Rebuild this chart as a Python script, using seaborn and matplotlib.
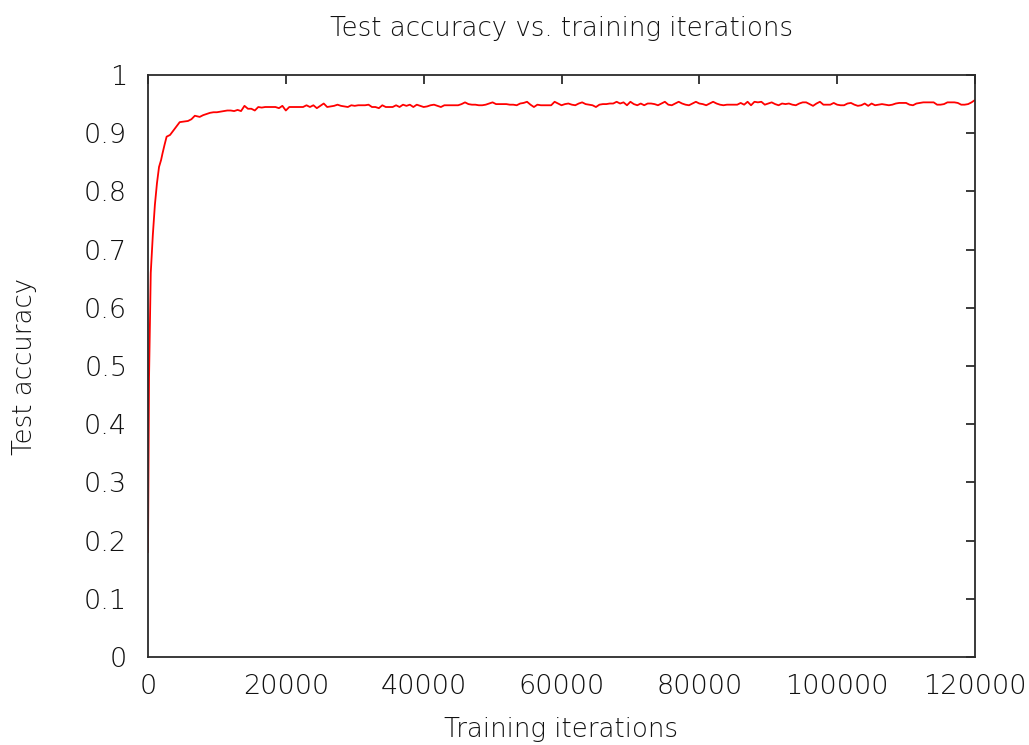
import numpy as np
import pandas as pd
import seaborn as sns
import matplotlib
matplotlib.use("Agg")
import matplotlib.pyplot as plt

# early test points (denser sampling at the start of training)
early_iters = [0, 150, 400, 700, 1000, 1300, 1600, 1900, 2100, 2400, 2700,
               3200, 3900, 4600, 5800, 6300, 6800, 7500]
early_acc = [0.18, 0.48, 0.66, 0.725, 0.777, 0.814, 0.842, 0.854, 0.865, 0.880,
             0.894, 0.897, 0.908, 0.919, 0.921, 0.924, 0.930, 0.928]

# plateau, one test every 500 iterations from 8000 to 120000
plateau_iters = list(range(8000, 120001, 500))
plateau_acc = [
    0.931, 0.933, 0.935, 0.936, 0.936, 0.937, 0.938, 0.939, 0.939, 0.938, 0.940, 0.938,
    0.947, 0.942, 0.942, 0.939, 0.945, 0.944, 0.945, 0.945, 0.945, 0.945, 0.943, 0.947,
    0.939, 0.945, 0.945, 0.945, 0.945, 0.945, 0.948, 0.945, 0.948, 0.943, 0.947, 0.951,
    0.945, 0.946, 0.947, 0.949, 0.947, 0.946, 0.945, 0.948, 0.947, 0.948, 0.948, 0.948,
    0.949, 0.945, 0.945, 0.943,
    0.948, 0.945, 0.945, 0.945, 0.948, 0.945, 0.949, 0.947, 0.949, 0.945, 0.949, 0.947,
    0.945, 0.946, 0.948, 0.949, 0.947, 0.945, 0.948, 0.948, 0.948, 0.948, 0.948, 0.950,
    0.953, 0.950, 0.949, 0.949, 0.948, 0.948, 0.949, 0.951, 0.953, 0.950, 0.950, 0.950,
    0.950, 0.949, 0.949,
    0.948, 0.951, 0.952, 0.954, 0.949, 0.945, 0.949, 0.948, 0.948, 0.948, 0.948, 0.954,
    0.951, 0.948, 0.950, 0.951, 0.949, 0.948, 0.951, 0.953, 0.950, 0.949, 0.948, 0.945,
    0.949, 0.950, 0.950, 0.951, 0.951, 0.954, 0.951, 0.953, 0.948, 0.954, 0.950, 0.948,
    0.951, 0.948, 0.951,
    0.951, 0.950, 0.948, 0.951, 0.954, 0.949, 0.948, 0.951, 0.954, 0.951, 0.949, 0.948,
    0.951, 0.954, 0.951, 0.950, 0.948, 0.951, 0.954, 0.951, 0.949, 0.948, 0.949, 0.949,
    0.949, 0.949, 0.952, 0.949, 0.954, 0.948, 0.954, 0.953, 0.954, 0.949, 0.951, 0.953,
    0.950, 0.948, 0.951,
    0.950, 0.951, 0.949, 0.948, 0.951, 0.953, 0.953, 0.950, 0.947, 0.951, 0.954, 0.949,
    0.949, 0.949, 0.952, 0.949, 0.948, 0.948, 0.951, 0.952, 0.949, 0.947, 0.948, 0.951,
    0.947, 0.951, 0.948, 0.949, 0.950, 0.949, 0.948, 0.949, 0.951, 0.952, 0.952, 0.952,
    0.949, 0.948, 0.951, 0.952,
    0.953, 0.953, 0.953, 0.953, 0.949, 0.949, 0.950, 0.953, 0.953, 0.953, 0.952, 0.949,
    0.949, 0.950, 0.953, 0.957,
]

x_ticks = [0, 20000, 40000, 60000, 80000, 100000, 120000]
x_tick_labels = ["0", "20000", "40000", "60000", "80000", "100000", "120000"]
y_ticks = [0, 0.1, 0.2, 0.3, 0.4, 0.5, 0.6, 0.7, 0.8, 0.9, 1.0]
y_tick_labels = ["0", "0.1", "0.2", "0.3", "0.4", "0.5", "0.6", "0.7", "0.8", "0.9", "1"]

df = pd.DataFrame({
    "iteration": early_iters + plateau_iters,
    "accuracy": early_acc + plateau_acc,
})

sns.set_style("white")
plt.rcParams["font.family"] = ["DejaVu Sans"]

frame_col = "#2b2b2b"
text_col = "#111111"
tick_size = 19.5
label_size = 18.7

fig = plt.figure(figsize=(10.29, 7.45), dpi=100)
ax = fig.add_axes([148 / 1029, 1 - 657 / 745, 827 / 1029, 582 / 745])

sns.lineplot(data=df, x="iteration", y="accuracy", ax=ax,
             color="#ff0000", linewidth=1.3, estimator=None)

ax.set_xlim(0, 120000)
ax.set_ylim(0, 1)
ax.set_xticks(x_ticks)
ax.set_xticklabels(x_tick_labels)
ax.set_yticks(y_ticks)
ax.set_yticklabels(y_tick_labels)

ax.tick_params(direction="in", length=6.5, width=1.3, color=frame_col,
               top=True, right=True, labelsize=tick_size, labelcolor=text_col)
ax.tick_params(axis="x", pad=12)
ax.tick_params(axis="y", pad=15)
for lab in ax.get_xticklabels() + ax.get_yticklabels():
    lab.set_fontweight("light")
for s in ax.spines.values():
    s.set_color(frame_col)
    s.set_linewidth(1.3)

ax.set_title("Test accuracy vs. training iterations", fontsize=label_size,
             color=text_col, pad=28, fontweight="light")
ax.set_xlabel("Training iterations", fontsize=label_size, color=text_col,
              labelpad=13, fontweight="light")
ax.set_ylabel("Test accuracy", fontsize=label_size, color=text_col,
              labelpad=34, fontweight="light")

plt.savefig("out.png", dpi=100)
